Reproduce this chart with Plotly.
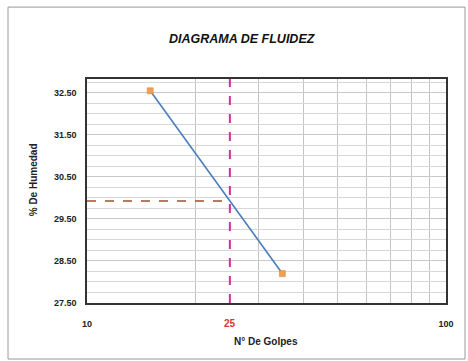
import numpy as np
import plotly.graph_objects as go

# Ensayo de límite líquido: número de golpes vs. contenido de humedad
golpes = [15, 35]
humedad = [32.55, 28.20]
golpes_ref = 25
y_ticks = [27.5, 28.5, 29.5, 30.5, 31.5, 32.5]
x_ticks = [10, 100]
x_minor = [20, 30, 40, 50, 60, 70, 80, 90]

# humedad a 25 golpes (interpolación en escala logarítmica)
lx = np.log10(golpes)
h25 = float(np.interp(np.log10(golpes_ref), lx, humedad))

y_min, y_max = 27.5, 32.83
font = "Liberation Sans, Arial, sans-serif"

fig = go.Figure()

# línea vertical en 25 golpes
fig.add_trace(go.Scatter(
    x=[golpes_ref, golpes_ref], y=[y_min, y_max], mode="lines",
    line=dict(color="#cc3399", width=2, dash="dash"), hoverinfo="skip"))
# línea horizontal hasta la humedad a 25 golpes
fig.add_trace(go.Scatter(
    x=[10, golpes_ref], y=[h25, h25], mode="lines",
    line=dict(color="#a0522d", width=1.5, dash="dash"), hoverinfo="skip"))
# curva de fluidez
fig.add_trace(go.Scatter(
    x=golpes, y=humedad, mode="lines+markers",
    line=dict(color="#4a7ebb", width=1.6),
    marker=dict(symbol="square", size=6, color="#f0a050",
                line=dict(color="#d08030", width=0.5))))

fig.update_layout(
    width=468, height=361,
    margin=dict(l=87, r=22, t=79, b=58),
    paper_bgcolor="white", plot_bgcolor="white",
    showlegend=False,
    font=dict(family=font, size=8, color="#222"),
)
fig.update_xaxes(
    type="log", range=[1, 2],
    tickvals=x_ticks, ticktext=[str(v) for v in x_ticks],
    tickfont=dict(family=font, size=9, color="#222", weight="bold"),
    showgrid=True, gridcolor="#bbbbbb", gridwidth=1,
    minor=dict(tickvals=x_minor, showgrid=True, gridcolor="#c4c4c4", gridwidth=1, ticks=""),
    showline=True, linecolor="#333", linewidth=1.5, mirror=True,
    ticks="", ticklabelstandoff=11, zeroline=False,
)
fig.update_yaxes(
    range=[y_min, y_max],
    tickvals=y_ticks, ticktext=[f"{v:.2f}" for v in y_ticks],
    tickfont=dict(family=font, size=9, color="#222", weight="bold"),
    showgrid=True, gridcolor="#c8c8c8", gridwidth=1,
    minor=dict(showgrid=True, tick0=27.5, dtick=0.25, gridcolor="#d8d8d8", gridwidth=1),
    showline=True, linecolor="#333", linewidth=1.5, mirror=True,
    ticks="", ticklabelstandoff=7, zeroline=False,
)

# marco exterior del gráfico
fig.add_shape(type="rect", xref="paper", yref="paper",
              x0=-0.22, x1=1.053, y0=-0.25, y1=1.321,
              line=dict(color="#999", width=1))

fig.add_annotation(text="<b><i>DIAGRAMA DE FLUIDEZ</i></b>", xref="paper", yref="paper",
                   x=0.432, y=1.219, showarrow=False,
                   font=dict(family=font, size=12.5, color="#111"))
fig.add_annotation(text="<b>% De Humedad</b>", xref="paper", yref="paper",
                   x=-0.17, y=0.55, textangle=-90, showarrow=False,
                   font=dict(family=font, size=10, color="#222"))
fig.add_annotation(text="<b>N° De Golpes</b>", xref="paper", yref="paper",
                   x=0.498, y=-0.205, showarrow=False,
                   font=dict(family=font, size=10, color="#222"))
fig.add_annotation(text=f"<b>{golpes_ref}</b>", x=np.log10(golpes_ref), xref="x",
                   yref="paper", y=-0.125, showarrow=False,
                   font=dict(family=font, size=10, color="#dd3333"))

fig.write_html("out.html")
